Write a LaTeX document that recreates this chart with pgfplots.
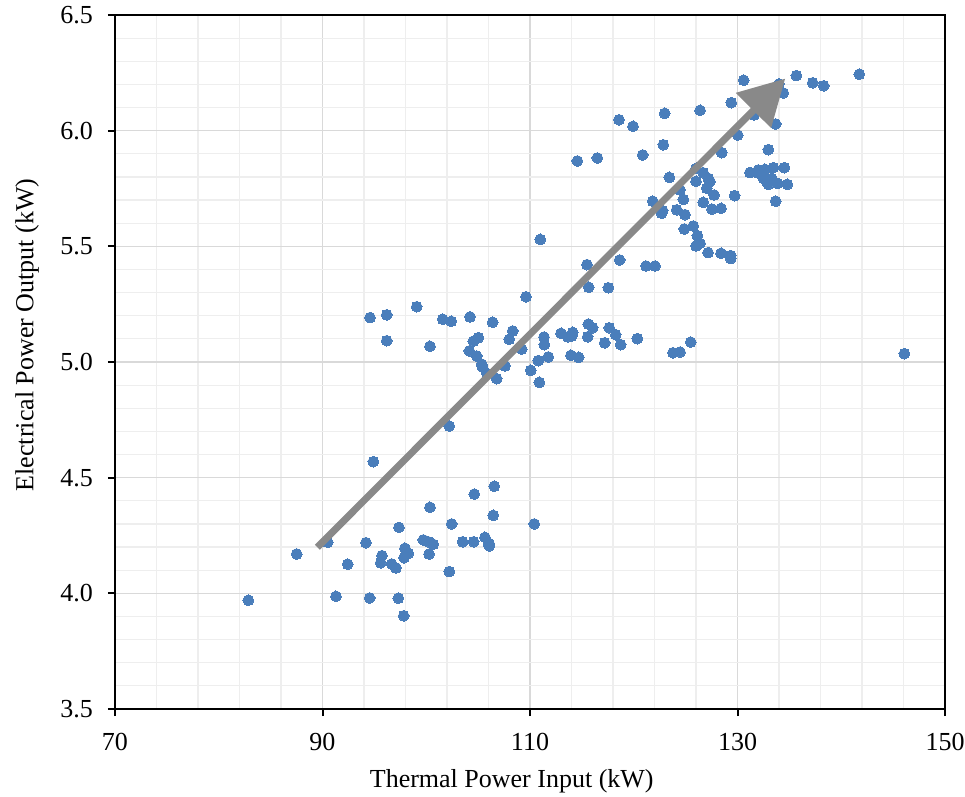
\documentclass[border=0pt]{standalone}
\usepackage{fontspec}
\setmainfont{Liberation Serif}
\usepackage{pgfplots}
\usepackage{pgfplotstable}
\pgfplotsset{compat=1.18}
\usetikzlibrary{arrows.meta}
\definecolor{ptblue}{RGB}{74,126,187}
\definecolor{arrgray}{RGB}{137,137,137}
\definecolor{majgrid}{RGB}{217,217,217}
\definecolor{mingrid}{RGB}{238,238,238}
\pgfplotstableread{
x y
82.85 3.970
87.51 4.170
90.50 4.221
91.30 3.987
92.43 4.126
94.19 4.219
94.55 3.980
94.90 4.569
95.61 4.132
95.73 4.163
96.67 4.127
97.08 4.110
97.37 4.285
97.31 3.979
97.83 3.903
97.95 4.195
98.27 4.173
97.86 4.154
99.72 4.231
100.20 4.223
100.68 4.212
100.27 4.170
100.36 4.372
102.22 4.094
102.45 4.300
102.22 4.723
103.51 4.223
104.57 4.223
104.63 4.429
105.66 4.242
106.05 4.216
106.08 4.205
106.56 4.463
106.46 4.337
110.41 4.300
94.58 5.192
96.19 5.204
96.19 5.092
99.08 5.239
100.36 5.068
101.59 5.185
102.41 5.176
104.22 5.195
106.40 5.172
109.61 5.282
108.33 5.134
108.00 5.098
109.20 5.056
111.35 5.108
111.38 5.075
111.76 5.022
110.80 5.006
110.07 4.964
110.90 4.912
107.59 4.983
104.54 5.090
105.02 5.105
104.15 5.048
104.86 5.026
105.34 4.991
105.40 4.980
105.83 4.951
106.79 4.928
112.99 5.124
113.63 5.109
114.12 5.128
114.02 5.112
115.62 5.164
116.04 5.148
115.56 5.109
117.20 5.083
117.64 5.148
118.26 5.118
118.74 5.075
120.34 5.101
113.95 5.029
114.69 5.020
123.78 5.040
124.46 5.043
125.49 5.086
146.08 5.036
110.99 5.530
115.49 5.421
115.66 5.323
117.55 5.321
118.64 5.441
121.18 5.415
122.05 5.415
124.87 5.575
125.74 5.588
126.13 5.546
126.39 5.513
126.00 5.502
127.16 5.473
128.41 5.470
129.35 5.460
129.35 5.447
114.56 5.869
116.49 5.882
118.58 6.047
119.93 6.019
120.86 5.895
122.85 5.939
122.98 6.075
123.43 5.798
126.39 6.088
129.40 6.121
130.60 6.218
130.02 5.981
128.48 5.905
126.00 5.837
126.70 5.818
127.18 5.794
127.35 5.780
126.00 5.781
127.03 5.751
127.74 5.722
129.73 5.719
124.78 5.703
124.46 5.744
121.83 5.695
126.70 5.690
127.54 5.661
128.41 5.664
122.79 5.654
122.69 5.643
124.14 5.658
124.94 5.637
131.20 5.819
131.85 5.819
132.00 5.830
132.65 5.833
133.45 5.840
134.51 5.840
132.33 5.808
132.49 5.794
132.81 5.779
132.97 5.768
133.30 5.794
133.87 5.772
134.80 5.768
133.68 5.695
132.97 5.918
133.68 6.029
131.59 6.068
134.41 6.163
134.00 6.202
135.67 6.238
137.25 6.207
138.31 6.194
141.74 6.244
}\datatable
\begin{document}
\fontsize{13pt}{15.6pt}\selectfont
\begin{tikzpicture}
\begin{axis}[
  scale only axis, width=415pt, height=347pt,
  xmin=70, xmax=150, ymin=3.5, ymax=6.5,
  clip marker paths=true,
  xtick={70,90,110,130,150},
  ytick={3.5,4.0,4.5,5.0,5.5,6.0,6.5},
  minor x tick num=4, minor y tick num=4,
  grid=both,
  major grid style={majgrid, line width=0.6pt},
  minor grid style={mingrid, line width=0.6pt},
  axis line style={black, line width=1pt},
  tick style={black, line width=1pt},
  tick align=outside,
  major tick length=3.5pt, minor tick length=0pt,
  xtick pos=bottom, ytick pos=left,
  y tick label style={/pgf/number format/fixed, /pgf/number format/fixed zerofill, /pgf/number format/precision=1},
  /pgf/number format/assume math mode=true,
  ticklabel style={font=\fontsize{13pt}{15.6pt}\selectfont},
  xticklabel style={yshift=-4pt},
  yticklabel style={xshift=-3pt},
  label style={font=\fontsize{13pt}{15.6pt}\selectfont},
  xlabel={Thermal Power Input (kW)},
  ylabel={Electrical Power Output (kW)},
  xlabel style={at={(axis description cs:0.478,-0.104)}, anchor=center},
  ylabel style={at={(axis description cs:-0.106,0.539)}, anchor=center},
]
\addplot[only marks, mark=*, mark size=2.7pt, mark options={fill=ptblue, draw=ptblue, line width=0pt}] table[x=x, y=y] {\datatable};
\addplot[arrgray, line width=3.5pt, -{Triangle[width=24pt,length=22.5pt]}] coordinates {(89.5,4.199) (134.6,6.225)};
\end{axis}
\pgfresetboundingbox
\path ([shift={(-57.5pt,-43.5pt)}]current axis.south west) rectangle ([shift={(10pt,7.5pt)}]current axis.north east);
\end{tikzpicture}
\end{document}
